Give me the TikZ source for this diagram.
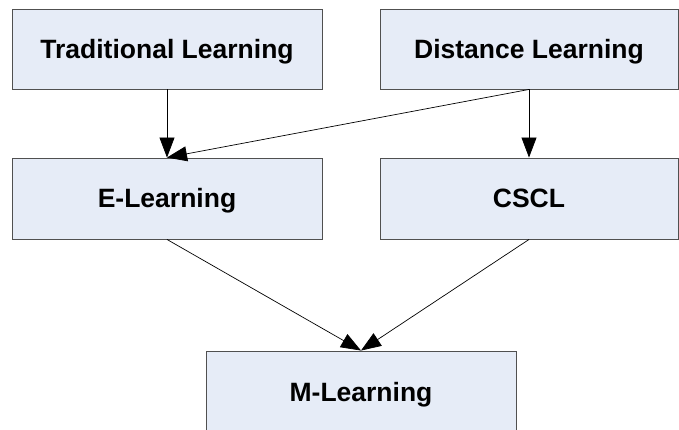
\documentclass[tikz,border=0pt]{standalone}
\usepackage{fontspec}
\setmainfont{Liberation Sans}
\usepackage{xcolor}
\usepackage{tikz}
\usetikzlibrary{calc,positioning,arrows.meta}
\definecolor{boxfill}{HTML}{E6ECF7}
\definecolor{boxline}{HTML}{505050}
\definecolor{dark}{HTML}{000000}

\begin{document}
\begin{tikzpicture}[x=1pt, y=-1pt,
  stage/.style={draw=boxline, fill=boxfill, line width=0.9pt, inner sep=0pt,
    minimum height=80pt, text height=18.5pt, text depth=0pt,
    font=\fontsize{26.5}{30}\selectfont\bfseries, text=dark},
  flow/.style={-{Triangle[length=20pt, width=15pt]}, line width=0.7pt, draw=dark}]
  \useasboundingbox (0,0) rectangle (679,430);
  % top row
  \node[stage, minimum width=310pt] (trad) at (167,49) {Traditional Learning};
  \node[stage, minimum width=298pt] (dist) at (529,49) {Distance Learning};
  % middle row
  \node[stage, minimum width=310pt, minimum height=81pt] (elearn) at (167,198.5) {E-Learning};
  \node[stage, minimum width=298pt, minimum height=81pt] (cscl) at (529,198.5) {CSCL};
  % bottom, cut by the page edge
  \node[stage, minimum width=310pt, minimum height=82pt] (mlearn) at (361,392) {M-Learning};

  \draw[flow] (trad.south) -- (elearn.north);
  \draw[flow] (dist.south) -- (elearn.north);
  \draw[flow] (dist.south) -- (cscl.north);
  \draw[flow] (elearn.south) -- (mlearn.north);
  \draw[flow] (cscl.south) -- (mlearn.north);
\end{tikzpicture}
\end{document}
